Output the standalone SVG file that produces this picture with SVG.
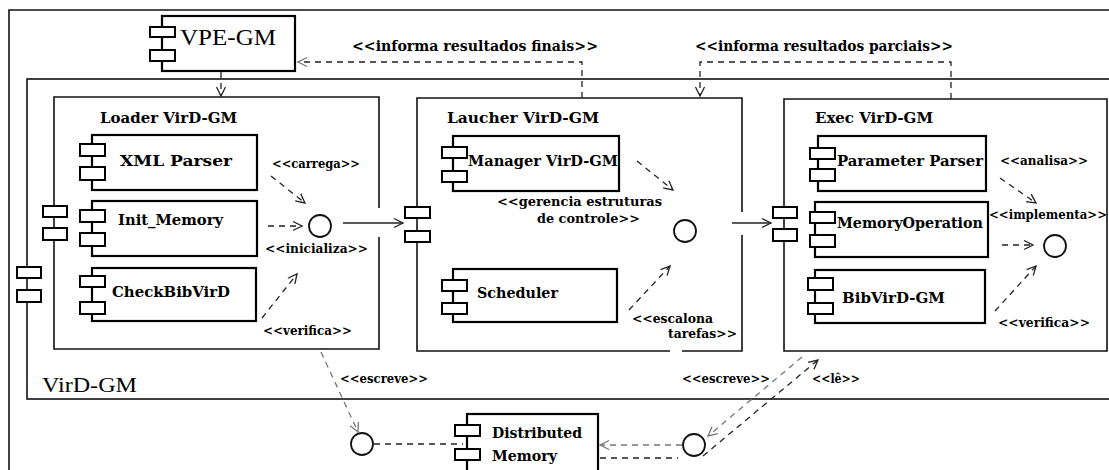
<svg xmlns="http://www.w3.org/2000/svg" width="1109" height="470" viewBox="0 0 1109 470">
<style>
.bg{fill:#fff}
.box{fill:#fff;stroke:#000;stroke-width:2.2}
.ic{fill:#fff;stroke:#000;stroke-width:2}
.ct{fill:none;stroke:#111;stroke-width:1.6}
.sol{fill:none;stroke:#222;stroke-width:1.3}
.dash{fill:none;stroke:#222;stroke-width:1.3;stroke-dasharray:6 5}
.dashg{fill:none;stroke:#777;stroke-width:1.3;stroke-dasharray:6 5}
.ifc{fill:#fff;stroke:#111;stroke-width:1.8}
.t{font-family:"DejaVu Serif","Liberation Serif",serif;font-weight:bold;fill:#000}
.st{font-size:12px}
.nm{font-size:15px}
.cn{font-size:15px}
.big{font-family:"Liberation Serif","Times New Roman",serif;font-size:23px;fill:#000}
</style>
<defs>
<marker id="ah" markerWidth="12" markerHeight="12" refX="10" refY="5" orient="auto" markerUnits="userSpaceOnUse" viewBox="0 0 12 10">
<path d="M1,0.5 L10,5 L1,9.5" fill="none" stroke="#222" stroke-width="1.3"/>
</marker>
<marker id="ahg" markerWidth="12" markerHeight="12" refX="10" refY="5" orient="auto" markerUnits="userSpaceOnUse" viewBox="0 0 12 10">
<path d="M1,0.5 L10,5 L1,9.5" fill="none" stroke="#777" stroke-width="1.3"/>
</marker>
</defs>
<rect class="bg" x="0" y="0" width="1109" height="470"/>

<g id="frame">
<path class="ct" d="M9,472 V10 H1112"/>
</g>

<g id="virdgm">
<rect class="ct" x="27" y="79" width="1100" height="320"/>
<rect class="ic" x="17" y="267" width="24" height="11"/>
<rect class="ic" x="17" y="290" width="24" height="12"/>
<text class="big" x="42" y="392" textLength="95" lengthAdjust="spacingAndGlyphs" style="font-size:22px">VirD-GM</text>
</g>

<g id="vpe-gm">
<rect class="box" x="162" y="16" width="133" height="55"/>
<rect class="ic" x="150" y="27" width="25" height="10"/>
<rect class="ic" x="150" y="50" width="25" height="11"/>
<text class="big" x="180" y="45" textLength="96" lengthAdjust="spacingAndGlyphs">VPE-GM</text>
</g>

<g id="loader">
<path class="ct" d="M379,237 V349 H54 V97 H379 V208"/>
<rect class="ic" x="43" y="206" width="24" height="11"/>
<rect class="ic" x="43" y="228" width="24" height="12"/>
<text class="t cn" x="100" y="123" textLength="137" lengthAdjust="spacingAndGlyphs">Loader VirD-GM</text>
<circle class="ifc" cx="320" cy="226" r="11"/>
</g>

<g id="xml-parser">
<rect class="box" x="92" y="135" width="165" height="55"/>
<rect class="ic" x="80" y="144" width="25" height="12"/>
<rect class="ic" x="80" y="167" width="25" height="13"/>
<text class="t nm" x="120" y="166" textLength="112" lengthAdjust="spacingAndGlyphs">XML Parser</text>
</g>
<g id="init-memory">
<rect class="box" x="92" y="201" width="165" height="55"/>
<rect class="ic" x="80" y="210" width="25" height="12"/>
<rect class="ic" x="80" y="233" width="25" height="13"/>
<text class="t nm" x="118" y="225" textLength="105" lengthAdjust="spacingAndGlyphs">Init_Memory</text>
</g>
<g id="checkbibvird">
<rect class="box" x="92" y="268" width="164" height="53"/>
<rect class="ic" x="80" y="276" width="25" height="11"/>
<rect class="ic" x="80" y="302" width="25" height="12"/>
<text class="t nm" x="112" y="297" textLength="118" lengthAdjust="spacingAndGlyphs">CheckBibVirD</text>
</g>

<g id="launcher">
<path class="ct" d="M742,235 V351 H682 M670,351 H417 V98 H742 V212"/>
<rect class="ic" x="405" y="207" width="25" height="11"/>
<rect class="ic" x="405" y="231" width="25" height="11"/>
<text class="t cn" x="447" y="123" textLength="152" lengthAdjust="spacingAndGlyphs">Laucher  VirD-GM</text>
<circle class="ifc" cx="685" cy="231" r="11"/>
</g>

<g id="manager">
<rect class="box" x="453" y="136" width="166" height="55"/>
<rect class="ic" x="442" y="147" width="25" height="11"/>
<rect class="ic" x="442" y="171" width="25" height="11"/>
<text class="t nm" x="468" y="166" textLength="150" lengthAdjust="spacingAndGlyphs">Manager VirD-GM</text>
</g>
<g id="scheduler">
<rect class="box" x="453" y="269" width="164" height="53"/>
<rect class="ic" x="442" y="280" width="25" height="11"/>
<rect class="ic" x="442" y="303" width="25" height="11"/>
<text class="t nm" x="477" y="298" textLength="81" lengthAdjust="spacingAndGlyphs">Scheduler</text>
</g>

<g id="exec">
<path class="ct" d="M784,99 H1107 V351 H784 Z"/>
<rect class="ic" x="773" y="207" width="24" height="11"/>
<rect class="ic" x="773" y="229" width="24" height="12"/>
<text class="t cn" x="815" y="123" textLength="118" lengthAdjust="spacingAndGlyphs">Exec VirD-GM</text>
<circle class="ifc" cx="1055" cy="246" r="11"/>
</g>

<g id="parameter-parser">
<rect class="box" x="818" y="136" width="168" height="55"/>
<rect class="ic" x="810" y="148" width="25" height="11"/>
<rect class="ic" x="810" y="169" width="25" height="12"/>
<text class="t nm" x="837" y="166" textLength="146" lengthAdjust="spacingAndGlyphs">Parameter Parser</text>
</g>
<g id="memory-operation">
<rect class="box" x="815" y="202" width="173" height="55"/>
<rect class="ic" x="810" y="212" width="25" height="11"/>
<rect class="ic" x="810" y="235" width="25" height="12"/>
<text class="t nm" x="837" y="228" textLength="146" lengthAdjust="spacingAndGlyphs">MemoryOperation</text>
</g>
<g id="bibvird-gm">
<rect class="box" x="815" y="270" width="170" height="53"/>
<rect class="ic" x="808" y="278" width="25" height="12"/>
<rect class="ic" x="808" y="303" width="25" height="11"/>
<text class="t nm" x="842" y="303" textLength="103" lengthAdjust="spacingAndGlyphs">BibVirD-GM</text>
</g>

<g id="distributed-memory">
<rect class="box" x="467" y="414" width="131" height="62"/>
<rect class="ic" x="455" y="425" width="25" height="11"/>
<rect class="ic" x="455" y="449" width="25" height="11"/>
<text class="t nm" x="492" y="438" textLength="90" lengthAdjust="spacingAndGlyphs">Distributed</text>
<text class="t nm" x="492" y="461" textLength="65" lengthAdjust="spacingAndGlyphs">Memory</text>
</g>

<g id="mem-if-left"><circle class="ifc" cx="362" cy="444" r="11"/></g>
<g id="mem-if-right"><circle class="ifc" cx="694" cy="445" r="11"/></g>

<g id="connectors">
<path class="dash" d="M221,72 V96" marker-end="url(#ah)"/>
<path class="dash" d="M582,98 V62 H298" marker-end="url(#ahg)"/>
<path class="dash" d="M951,99 V62 H700 V96" marker-end="url(#ah)"/>
<path class="sol" d="M343,223 H403" marker-end="url(#ah)"/>
<path class="sol" d="M732,223 H771" marker-end="url(#ah)"/>
<path class="dash" d="M271,176 L305,203" marker-end="url(#ah)"/>
<path class="dash" d="M268,226 H302" marker-end="url(#ah)"/>
<path class="dash" d="M262,318 L297,274" marker-end="url(#ah)"/>
<path class="dash" d="M637,161 L673,190" marker-end="url(#ah)"/>
<path class="dash" d="M629,310 L670,266" marker-end="url(#ah)"/>
<path class="dash" d="M1000,178 L1036,203" marker-end="url(#ah)"/>
<path class="dash" d="M1002,245 H1033" marker-end="url(#ah)"/>
<path class="dash" d="M995,311 L1036,266" marker-end="url(#ah)"/>
<path class="dashg" d="M321,352 L358,432" marker-end="url(#ahg)"/>
<path class="dash" d="M374,444 H463"/>
<path class="dashg" d="M682,445 H600" marker-end="url(#ahg)"/>
<path class="dash" d="M600,458 H678"/>
<path class="dashg" d="M802,357 L708,436" marker-end="url(#ahg)"/>
<path class="dash" d="M703,456 L818,360" marker-end="url(#ah)"/>
</g>

<g id="labels">
<text class="t" x="352" y="51" style="font-size:14px" textLength="246" lengthAdjust="spacingAndGlyphs">&lt;&lt;informa resultados  finais&gt;&gt;</text>
<text class="t" x="695" y="51" style="font-size:14px" textLength="258" lengthAdjust="spacingAndGlyphs">&lt;&lt;informa resultados parciais&gt;&gt;</text>
<text class="t st" x="272" y="168" textLength="88" lengthAdjust="spacingAndGlyphs">&lt;&lt;carrega&gt;&gt;</text>
<text class="t st" x="265" y="253" textLength="103" lengthAdjust="spacingAndGlyphs">&lt;&lt;inicializa&gt;&gt;</text>
<text class="t st" x="263" y="335" textLength="89" lengthAdjust="spacingAndGlyphs">&lt;&lt;verifica&gt;&gt;</text>
<text class="t st" x="497" y="206" textLength="165" lengthAdjust="spacingAndGlyphs">&lt;&lt;gerencia estruturas</text>
<text class="t st" x="537" y="223" textLength="103" lengthAdjust="spacingAndGlyphs">de controle&gt;&gt;</text>
<text class="t st" x="632" y="323" textLength="81" lengthAdjust="spacingAndGlyphs">&lt;&lt;escalona</text>
<text class="t st" x="668" y="338" textLength="69" lengthAdjust="spacingAndGlyphs">tarefas&gt;&gt;</text>
<text class="t st" x="1000" y="165" textLength="88" lengthAdjust="spacingAndGlyphs">&lt;&lt;analisa&gt;&gt;</text>
<text class="t st" x="989" y="219" textLength="118" lengthAdjust="spacingAndGlyphs">&lt;&lt;implementa&gt;&gt;</text>
<text class="t st" x="998" y="327" textLength="92" lengthAdjust="spacingAndGlyphs">&lt;&lt;verifica&gt;&gt;</text>
<text class="t st" x="340" y="383" textLength="88" lengthAdjust="spacingAndGlyphs">&lt;&lt;escreve&gt;&gt;</text>
<text class="t st" x="682" y="383" textLength="88" lengthAdjust="spacingAndGlyphs">&lt;&lt;escreve&gt;&gt;</text>
<text class="t st" x="812" y="383" textLength="48" lengthAdjust="spacingAndGlyphs">&lt;&lt;lê&gt;&gt;</text>
</g>
</svg>
